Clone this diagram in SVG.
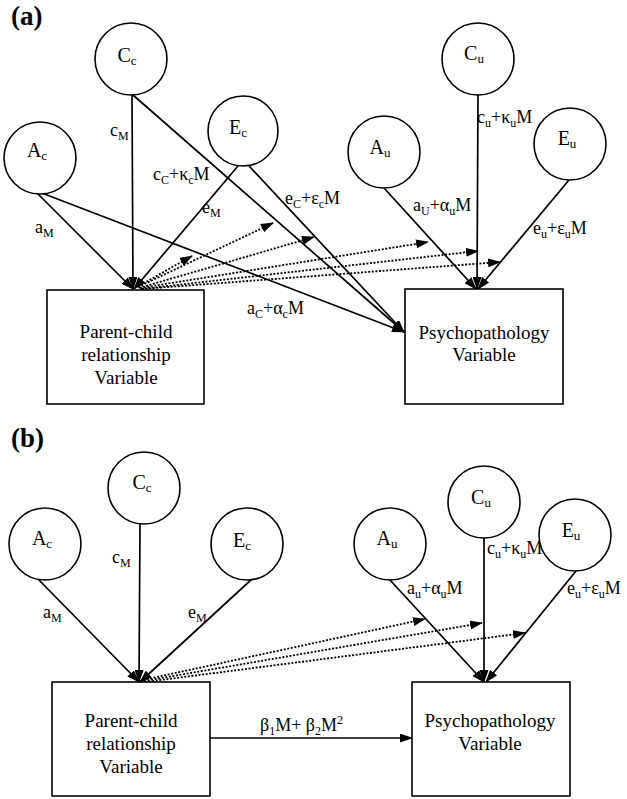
<svg xmlns="http://www.w3.org/2000/svg" width="627" height="799" viewBox="0 0 627 799" font-family="'Liberation Serif', 'Times New Roman', Tinos, 'DejaVu Serif', serif">
<style>
text{font-family:'Liberation Serif','Times New Roman',Tinos,'DejaVu Serif',serif;fill:#000}
.lab{font-size:18px}
.nl{font-size:20px}
.bx{font-size:19px}
.sub{font-size:12px}
.nsub{font-size:13px}
.hd{font-size:27px;font-weight:bold}
circle,rect{fill:#fff;stroke:#000;stroke-width:1.6}
.ln{stroke:#000;stroke-width:1.7;fill:none;marker-end:url(#ah)}
.dt{stroke:#000;stroke-width:1.8;fill:none;stroke-dasharray:2 1.6;marker-end:url(#ah2)}
</style>
<defs>
<marker id="ah" markerWidth="13" markerHeight="9" refX="12" refY="4.5" orient="auto" markerUnits="userSpaceOnUse"><path d="M0,0 L13,4.5 L0,9 z" fill="#000"/></marker>
<marker id="ah2" markerWidth="13" markerHeight="9" refX="12" refY="4.5" orient="auto" markerUnits="userSpaceOnUse"><path d="M0,0 L13,4.5 L0,9 z" fill="#000"/></marker>
</defs>
<rect x="0" y="0" width="627" height="799" style="fill:#fff;stroke:none"/>
<text class="hd" x="11" y="25" font-family="'Liberation Serif', serif">(a)</text>
<text class="hd" x="11" y="447" font-family="'Liberation Serif', serif">(b)</text>

<g id="connectors">
<line class="ln" x1="34" y1="190" x2="133" y2="289"/>
<line class="ln" x1="34" y1="190" x2="404" y2="332"/>
<line class="ln" x1="132" y1="95" x2="133" y2="289"/>
<line class="ln" x1="133" y1="95" x2="404" y2="332"/>
<line class="ln" x1="238" y1="166" x2="134" y2="289"/>
<line class="ln" x1="249" y1="166" x2="404" y2="332"/>
<line class="ln" x1="384" y1="188" x2="476" y2="289"/>
<line class="ln" x1="478" y1="95" x2="477" y2="289"/>
<line class="ln" x1="569" y1="180" x2="478" y2="289"/>
<line class="dt" x1="137" y1="287" x2="192" y2="256"/>
<line class="dt" x1="138" y1="287" x2="273" y2="223"/>
<line class="dt" x1="139" y1="288" x2="314" y2="237"/>
<line class="dt" x1="140" y1="288" x2="428" y2="242"/>
<line class="dt" x1="141" y1="289" x2="478" y2="251"/>
<line class="dt" x1="142" y1="289" x2="500" y2="262"/>
<line class="ln" x1="38" y1="579" x2="139" y2="682"/>
<line class="ln" x1="140" y1="524" x2="139" y2="682"/>
<line class="ln" x1="252" y1="579" x2="140" y2="682"/>
<line class="ln" x1="390" y1="580" x2="484" y2="682"/>
<line class="ln" x1="484" y1="538" x2="484" y2="682"/>
<line class="ln" x1="576" y1="571" x2="486" y2="682"/>
<line class="dt" x1="143" y1="680" x2="425" y2="619"/>
<line class="dt" x1="144" y1="681" x2="482" y2="623"/>
<line class="dt" x1="145" y1="682" x2="525" y2="633"/>
<line class="ln" x1="210" y1="738" x2="412" y2="738"/>
</g>

<g id="edge-labels">
<text class="lab" x="35" y="233">a<tspan class="sub" dy="4">M</tspan></text>
<text class="lab" x="110" y="136">c<tspan class="sub" dy="4">M</tspan></text>
<text class="lab" x="153" y="180">c<tspan class="sub" dy="4">C</tspan><tspan dy="-4">+κ</tspan><tspan class="sub" dy="4">c</tspan><tspan dy="-4">M</tspan></text>
<text class="lab" x="202" y="213">e<tspan class="sub" dy="4">M</tspan></text>
<text class="lab" x="285" y="204">e<tspan class="sub" dy="4">C</tspan><tspan dy="-4">+ε</tspan><tspan class="sub" dy="4">c</tspan><tspan dy="-4">M</tspan></text>
<text class="lab" x="247" y="314">a<tspan class="sub" dy="4">C</tspan><tspan dy="-4">+α</tspan><tspan class="sub" dy="4">c</tspan><tspan dy="-4">M</tspan></text>
<text class="lab" x="413" y="211">a<tspan class="sub" dy="4">U</tspan><tspan dy="-4">+α</tspan><tspan class="sub" dy="4">u</tspan><tspan dy="-4">M</tspan></text>
<text class="lab" x="477" y="123">c<tspan class="sub" dy="4">u</tspan><tspan dy="-4">+κ</tspan><tspan class="sub" dy="4">u</tspan><tspan dy="-4">M</tspan></text>
<text class="lab" x="533" y="234">e<tspan class="sub" dy="4">u</tspan><tspan dy="-4">+ε</tspan><tspan class="sub" dy="4">u</tspan><tspan dy="-4">M</tspan></text>
<text class="lab" x="43" y="618">a<tspan class="sub" dy="4">M</tspan></text>
<text class="lab" x="112" y="563">c<tspan class="sub" dy="4">M</tspan></text>
<text class="lab" x="188" y="618">e<tspan class="sub" dy="4">M</tspan></text>
<text class="lab" x="407" y="594">a<tspan class="sub" dy="4">u</tspan><tspan dy="-4">+α</tspan><tspan class="sub" dy="4">u</tspan><tspan dy="-4">M</tspan></text>
<text class="lab" x="487" y="554">c<tspan class="sub" dy="4">u</tspan><tspan dy="-4">+κ</tspan><tspan class="sub" dy="4">u</tspan><tspan dy="-4">M</tspan></text>
<text class="lab" x="567" y="594">e<tspan class="sub" dy="4">u</tspan><tspan dy="-4">+ε</tspan><tspan class="sub" dy="4">u</tspan><tspan dy="-4">M</tspan></text>
<text class="lab" x="260" y="731">β<tspan class="sub" dy="4">1</tspan><tspan dy="-4">M+ β</tspan><tspan class="sub" dy="4">2</tspan><tspan dy="-4">M</tspan><tspan class="sub" dy="-7">2</tspan></text>
</g>

<g id="a-Ac"><circle cx="40" cy="158" r="36"/><text class="nl" x="37" y="157" text-anchor="middle">A<tspan class="nsub" dy="3">c</tspan></text></g>
<g id="a-Cc"><circle cx="131" cy="59" r="36"/><text class="nl" x="127" y="62" text-anchor="middle">C<tspan class="nsub" dy="3">c</tspan></text></g>
<g id="a-Ec"><circle cx="243" cy="131" r="35"/><text class="nl" x="238" y="134" text-anchor="middle">E<tspan class="nsub" dy="3">c</tspan></text></g>
<g id="a-Au"><circle cx="384" cy="152" r="36"/><text class="nl" x="380" y="154" text-anchor="middle">A<tspan class="nsub" dy="3">u</tspan></text></g>
<g id="a-Cu"><circle cx="478" cy="59" r="36"/><text class="nl" x="474" y="60" text-anchor="middle">C<tspan class="nsub" dy="3">u</tspan></text></g>
<g id="a-Eu"><circle cx="570" cy="144" r="36"/><text class="nl" x="567" y="145" text-anchor="middle">E<tspan class="nsub" dy="3">u</tspan></text></g>
<g id="a-parent"><rect x="47" y="290" width="157" height="114"/><text class="bx" text-anchor="middle"><tspan x="126" y="338">Parent-child</tspan><tspan x="126" y="361">relationship</tspan><tspan x="126" y="384">Variable</tspan></text></g>
<g id="a-psych"><rect x="405" y="289" width="158" height="115"/><text class="bx" text-anchor="middle"><tspan x="484" y="339">Psychopathology</tspan><tspan x="484" y="361">Variable</tspan></text></g>

<g id="b-Ac"><circle cx="45" cy="544" r="36"/><text class="nl" x="42" y="545" text-anchor="middle">A<tspan class="nsub" dy="3">c</tspan></text></g>
<g id="b-Cc"><circle cx="144" cy="488" r="36"/><text class="nl" x="142" y="489" text-anchor="middle">C<tspan class="nsub" dy="3">c</tspan></text></g>
<g id="b-Ec"><circle cx="247" cy="544" r="36"/><text class="nl" x="242" y="547" text-anchor="middle">E<tspan class="nsub" dy="3">c</tspan></text></g>
<g id="b-Au"><circle cx="390" cy="544" r="36"/><text class="nl" x="387" y="545" text-anchor="middle">A<tspan class="nsub" dy="3">u</tspan></text></g>
<g id="b-Cu"><circle cx="484" cy="502" r="36"/><text class="nl" x="481" y="504" text-anchor="middle">C<tspan class="nsub" dy="3">u</tspan></text></g>
<g id="b-Eu"><circle cx="575" cy="535" r="36"/><text class="nl" x="571" y="537" text-anchor="middle">E<tspan class="nsub" dy="3">u</tspan></text></g>
<g id="b-parent"><rect x="52" y="682" width="158" height="114"/><text class="bx" text-anchor="middle"><tspan x="131" y="727">Parent-child</tspan><tspan x="131" y="750">relationship</tspan><tspan x="131" y="773">Variable</tspan></text></g>
<g id="b-psych"><rect x="412" y="682" width="158" height="114"/><text class="bx" text-anchor="middle"><tspan x="490" y="727">Psychopathology</tspan><tspan x="490" y="750">Variable</tspan></text></g>
</svg>
